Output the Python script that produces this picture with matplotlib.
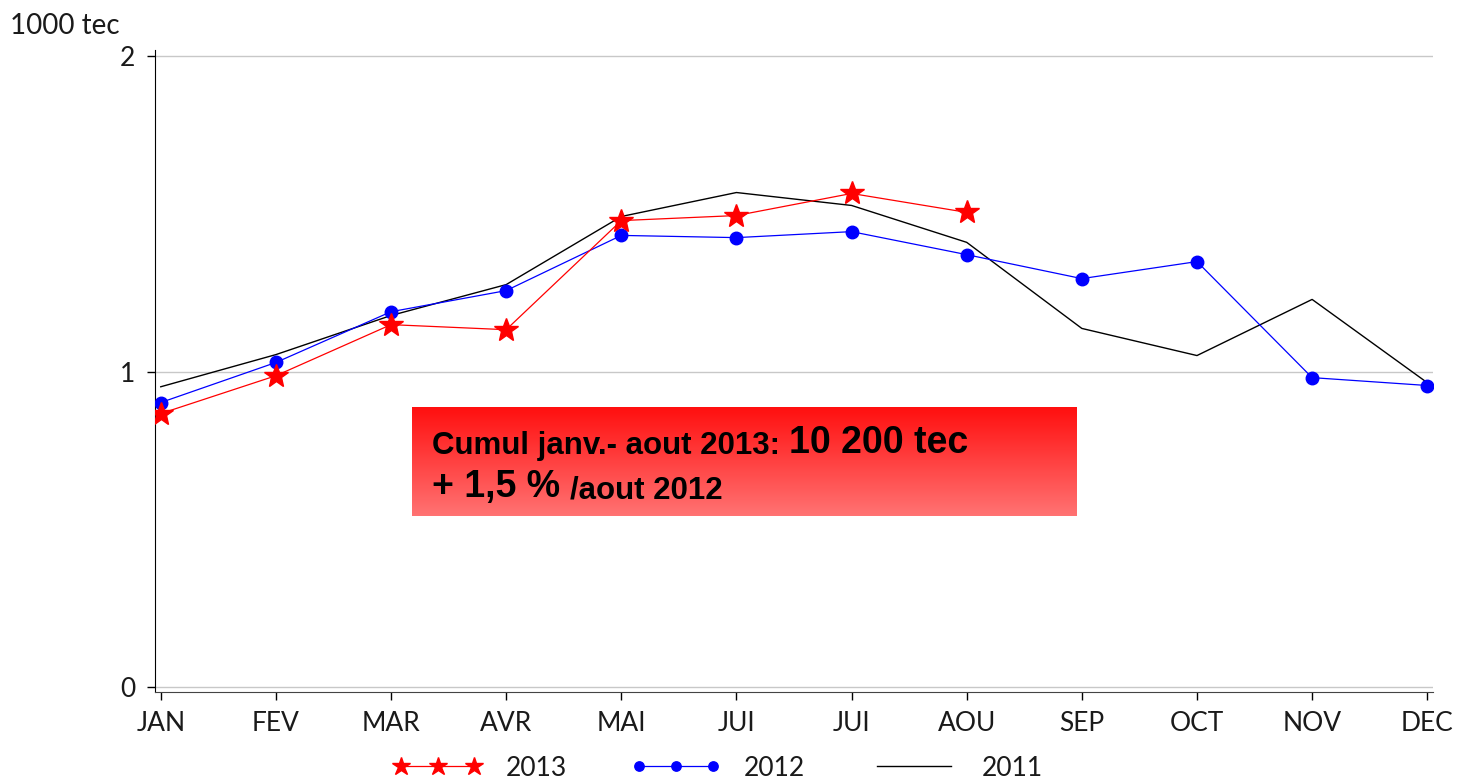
import numpy as np
import matplotlib.pyplot as plt

months = ['JAN', 'FEV', 'MAR', 'AVR', 'MAI', 'JUI', 'JUI', 'AOU', 'SEP', 'OCT', 'NOV', 'DEC']
v2013 = [0.867, 0.987, 1.149, 1.133, 1.479, 1.495, 1.565, 1.505]
v2012 = [0.902, 1.029, 1.190, 1.257, 1.432, 1.425, 1.444, 1.371, 1.295, 1.349, 0.981, 0.956]
v2011 = [0.952, 1.054, 1.178, 1.276, 1.492, 1.568, 1.527, 1.410, 1.137, 1.051, 1.229, 0.965]

plt.rcParams['font.family'] = ['Lato', 'DejaVu Sans']

fig = plt.figure(figsize=(14.58, 7.81), dpi=100)
ax = fig.add_axes([155/1458, 1 - 692/781, 1278/1458, 642/781])

x = np.arange(len(months))
ax.plot(x[:len(v2013)], v2013, color='red', lw=0.9, marker='*', ms=18, label='2013', zorder=4)
ax.plot(x, v2012, color='blue', lw=0.9, marker='o', ms=9, label='2012', zorder=3)
ax.plot(x, v2011, color='black', lw=1.0, label='2011', zorder=2)

ax.set_xlim(-0.05, 11.05)
ax.set_ylim(-0.016, 2.02)
ax.set_yticks([0, 1, 2])
ax.set_xticks(x)
ax.set_xticklabels(months)
ax.tick_params(labelsize=19, labelcolor='#1a1a1a', length=6, width=1, pad=8)
ax.grid(axis='y', color='#c8c8c8', lw=1)
ax.set_axisbelow(True)
ax.spines['top'].set_visible(False)
ax.spines['right'].set_visible(False)
ax.spines['left'].set_color('black')
ax.spines['bottom'].set_color('#444444')

fig.text(10/1458, 1 - 26/781, '1000 tec', fontsize=20, va='center', color='#1a1a1a')

h, l = ax.get_legend_handles_labels()
leg = fig.legend(h, l, loc='center', bbox_to_anchor=(718/1458, 1 - 768/781), ncol=3, frameon=False,
                 numpoints=3, fontsize=19, handlelength=3.4, columnspacing=2.4, handletextpad=0.9,
                 markerscale=0.75)
for t in leg.get_texts():
    t.set_color('#1a1a1a')

# gradient box
bax = fig.add_axes([412/1458, 1 - 516/781, 665/1458, 109/781])
grad = np.linspace(0, 1, 100).reshape(-1, 1)
top = np.array([1.0, 0.06, 0.06])
bot = np.array([1.0, 0.45, 0.45])
img = top + grad[:, :, None] * (bot - top)
bax.imshow(img, aspect='auto', extent=[0, 1, 0, 1], origin='upper')
bax.set_axis_off()
bold = dict(fontweight='bold', family='Liberation Sans', color='black')
t1 = bax.text(0.03, 0.57, 'Cumul janv.- aout 2013: ', fontsize=22.5, va='baseline',
              transform=bax.transAxes, **bold)
bax.annotate('10 200 tec', xy=(1, 0), xycoords=t1, fontsize=27, va='bottom', **bold)
t2 = bax.text(0.03, 0.17, '+ 1,5 % ', fontsize=27, va='baseline', transform=bax.transAxes, **bold)
bax.annotate('/aout 2012', xy=(1, 0), xycoords=t2, fontsize=22.5, va='bottom', **bold)

fig.savefig('out.png', dpi=100)
